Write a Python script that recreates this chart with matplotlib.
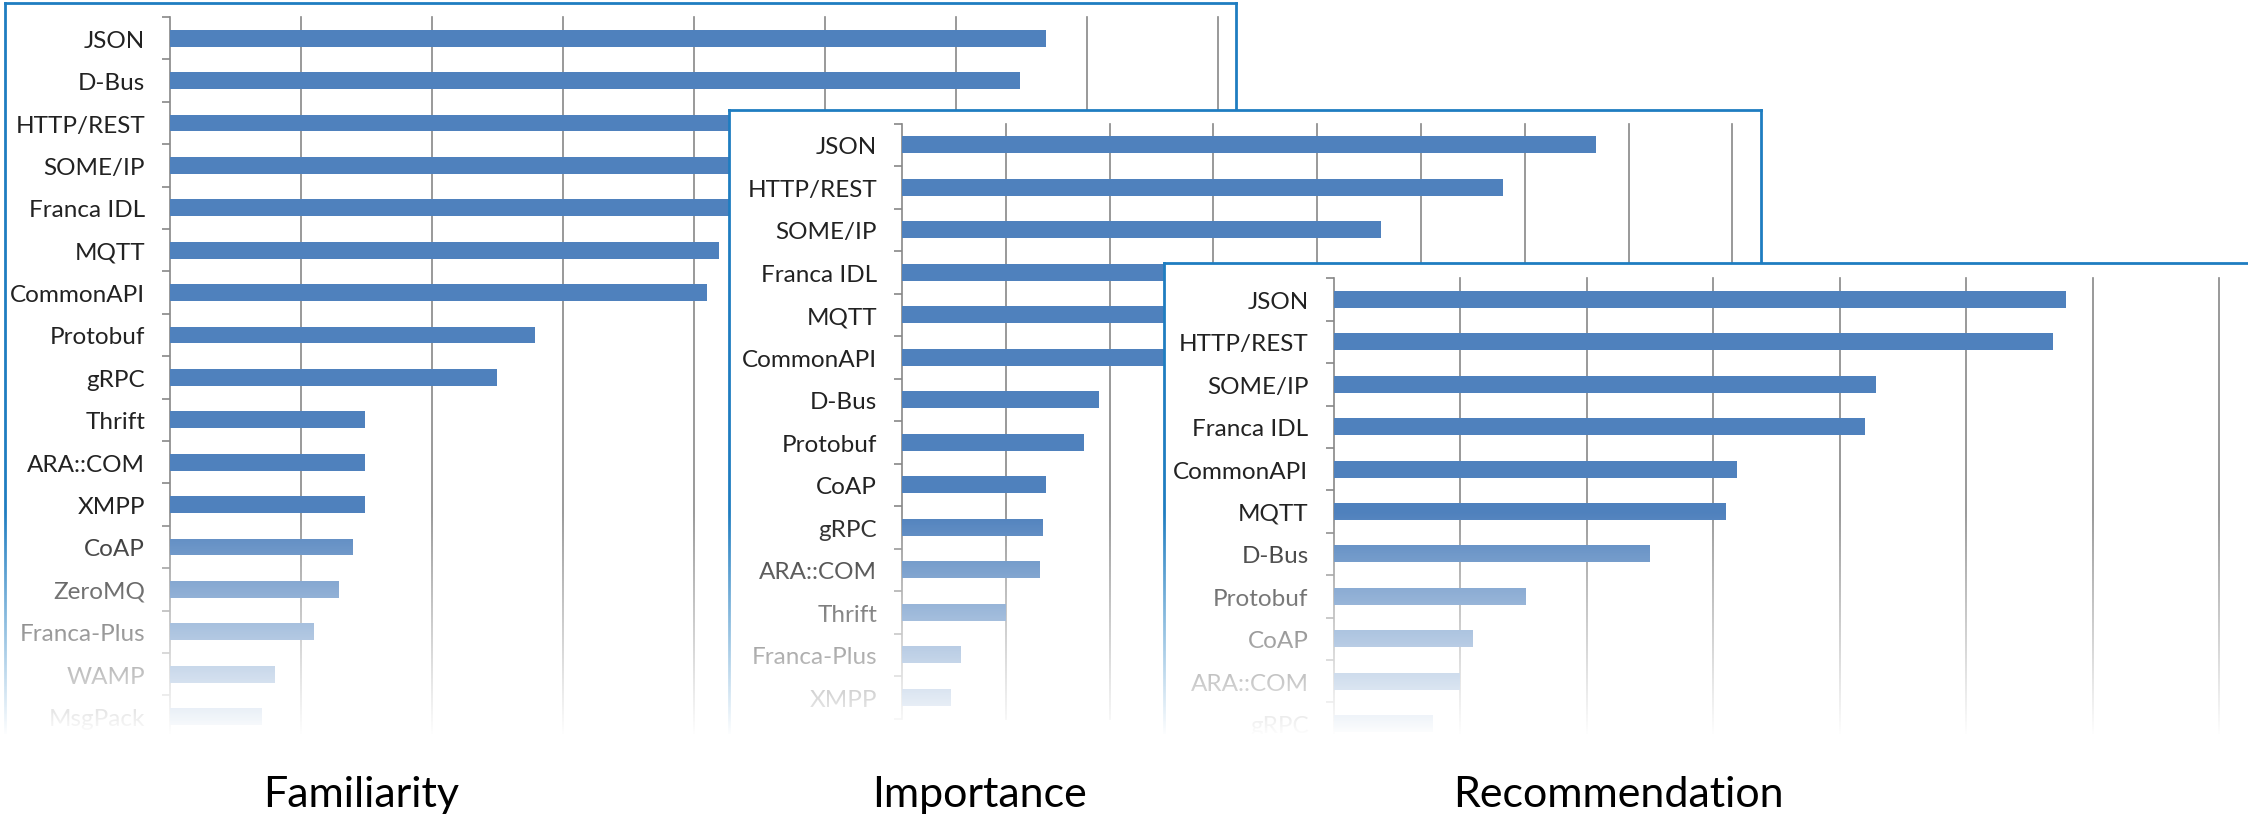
import numpy as np
import matplotlib
matplotlib.use('Agg')
import matplotlib.pyplot as plt

plt.rcParams['font.family'] = ['Lato', 'DejaVu Sans']

# values (one unit = one gridline step)
fam_labels = ['JSON', 'D-Bus', 'HTTP/REST', 'SOME/IP', 'Franca IDL', 'MQTT', 'CommonAPI',
              'Protobuf', 'gRPC', 'Thrift', 'ARA::COM', 'XMPP', 'CoAP', 'ZeroMQ',
              'Franca-Plus', 'WAMP', 'MsgPack']
fam_values = [6.69, 6.49, 6.2, 5.8, 5.3, 4.19, 4.10, 2.79, 2.50, 1.49, 1.49, 1.49, 1.40,
              1.29, 1.10, 0.80, 0.70]

imp_labels = ['JSON', 'HTTP/REST', 'SOME/IP', 'Franca IDL', 'MQTT', 'CommonAPI', 'D-Bus',
              'Protobuf', 'CoAP', 'gRPC', 'ARA::COM', 'Thrift', 'Franca-Plus', 'XMPP']
imp_values = [6.69, 5.79, 4.61, 4.2, 3.9, 3.6, 1.90, 1.75, 1.39, 1.36, 1.33, 1.0, 0.57, 0.47]

rec_labels = ['JSON', 'HTTP/REST', 'SOME/IP', 'Franca IDL', 'CommonAPI', 'MQTT', 'D-Bus',
              'Protobuf', 'CoAP', 'ARA::COM', 'gRPC']
rec_values = [5.79, 5.69, 4.29, 4.20, 3.19, 3.10, 2.50, 1.52, 1.10, 1.0, 0.79]

titles = ['Familiarity', 'Importance', 'Recommendation']

W, H = 2248, 820
BAR = '#4f81bd'
GRID = '#878787'
FRAME = '#1f7dc1'

fig = plt.figure(figsize=(W / 100, H / 100), dpi=100)


def rect(l, t, r, b):
    return [l / W, 1 - b / H, (r - l) / W, (b - t) / H]


def panel(box, left, top, step, unit, labels, values, z):
    frame = fig.add_axes(rect(*box), zorder=z)
    frame.set_xticks([])
    frame.set_yticks([])
    frame.set_facecolor('white')
    for s in frame.spines.values():
        s.set_color(FRAME)
        s.set_linewidth(2)

    n = len(labels)
    ax = fig.add_axes(rect(left, top, left + 8 * unit, top + n * step), zorder=z + 1)
    ax.patch.set_alpha(0)
    pos = np.arange(n)
    ax.barh(pos, values, height=0.4, color=BAR, zorder=3)
    ax.set_ylim(n - 0.5, -0.5)
    ax.set_xlim(0, 8)
    ax.set_yticks(pos)
    ax.set_yticklabels(labels, fontsize=17.5, color='#222222')
    ax.set_yticks(np.arange(n + 1) - 0.5, minor=True)
    ax.tick_params(axis='y', which='major', length=0, pad=18)
    ax.tick_params(axis='y', which='minor', length=6, color=GRID, width=1.2)
    ax.set_xticks(np.arange(1, 9))
    ax.set_xticklabels([])
    ax.tick_params(axis='x', length=0)
    ax.grid(axis='x', color=GRID, linewidth=1.2, clip_on=False)
    ax.set_axisbelow(True)
    for s in ['top', 'right', 'bottom']:
        ax.spines[s].set_visible(False)
    ax.spines['left'].set_color(GRID)
    ax.spines['left'].set_linewidth(1.2)


panel((5, 4, 1236, 790), 170, 18, 42.4, 131, fam_labels, fam_values, 1)
panel((729, 111, 1761, 790), 902, 124.5, 42.5, 103.8, imp_labels, imp_values, 3)
panel((1164, 264, 2300, 790), 1333.5, 279.3, 42.4, 126.5, rec_labels, rec_values, 5)

# white fade over the lower part of the panels
top, bot = 500, 820
ys = np.arange(top, bot)
alpha = np.clip((ys - 512) / (735 - 512), 0, 1)
fade = np.ones((len(ys), 1, 4))
fade[:, 0, 3] = alpha
fax = fig.add_axes(rect(0, top, W, bot), zorder=50)
fax.imshow(fade, aspect='auto', extent=[0, 1, 1, 0], interpolation='bilinear')
fax.axis('off')

for x, t in zip([361, 979, 1618], titles):
    fig.text(x / W, 1 - 806.7 / H, t, ha='center', va='baseline', fontsize=31,
             color='black', zorder=60)

fig.savefig('out.png', dpi=100, facecolor='white')
